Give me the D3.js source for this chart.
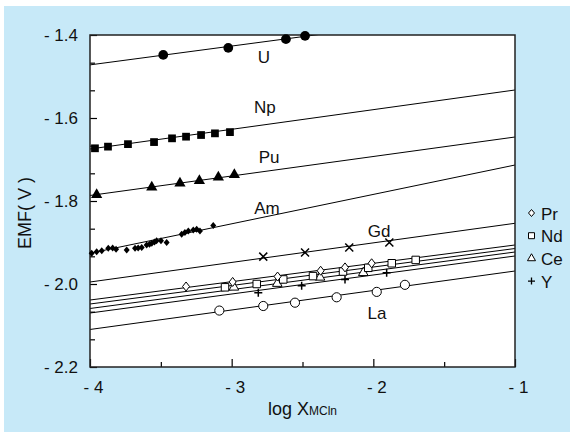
<!DOCTYPE html>
<html><head><meta charset="utf-8">
<script src="https://cdn.jsdelivr.net/npm/d3@7"></script>
<style>
body{margin:0;background:#fff;}
svg{display:block;}
text{font-family:Arial,"Liberation Sans",sans-serif;fill:#111;}
</style>
</head><body>
<svg id="chart" width="570" height="435"></svg>
<script>
// ---------- data ----------
const xTicks = [-4, -3, -2, -1];
const xTickLabels = ["- 4", "- 3", "- 2", "- 1"];
const yTicks = [-1.4, -1.6, -1.8, -2.0, -2.2];
const yTickLabels = ["- 1.4", "- 1.6", "- 1.8", "- 2.0", "- 2.2"];
const xMinorTicks = [-3.5, -2.5, -1.5];
const yMinorTicks = [-1.4667, -1.5333, -1.6667, -1.7333, -1.8667, -1.9333, -2.0667, -2.1333];

const uX = [-3.483, -3.024, -2.617, -2.482];
const uY = [-1.448, -1.431, -1.410, -1.402];
const npX = [-3.965, -3.873, -3.732, -3.548, -3.421, -3.322, -3.216, -3.118, -3.012];
const npY = [-1.673, -1.669, -1.663, -1.658, -1.649, -1.645, -1.641, -1.637, -1.634];
const puX = [-3.953, -3.564, -3.365, -3.228, -3.094, -2.981];
const puY = [-1.785, -1.767, -1.757, -1.751, -1.743, -1.737];
const amX = [-3.988, -3.953, -3.917, -3.871, -3.840, -3.816, -3.741, -3.682, -3.660, -3.635, -3.600, -3.580, -3.564, -3.545, -3.530, -3.499, -3.459, -3.353, -3.330, -3.306, -3.271, -3.247, -3.224, -3.130];
const amY = [-1.926, -1.922, -1.920, -1.914, -1.913, -1.916, -1.918, -1.914, -1.913, -1.912, -1.906, -1.904, -1.902, -1.899, -1.896, -1.896, -1.900, -1.880, -1.876, -1.872, -1.870, -1.868, -1.872, -1.859];
const gdX = [-2.777, -2.482, -2.170, -1.887];
const gdY = [-1.934, -1.924, -1.912, -1.900];
const prX = [-3.322, -2.993, -2.676, -2.372, -2.200, -2.012];
const prY = [-2.006, -1.995, -1.982, -1.968, -1.960, -1.950];
const ndX = [-3.047, -2.823, -2.636, -2.426, -2.214, -2.036, -1.870, -1.701];
const ndY = [-2.008, -2.000, -1.989, -1.981, -1.970, -1.961, -1.950, -1.942];
const ceX = [-2.984, -2.678, -2.376, -2.071];
const ceY = [-2.008, -1.999, -1.984, -1.973];
const yyX = [-2.812, -2.506, -2.200, -1.906];
const yyY = [-2.021, -2.004, -1.989, -1.973];
const laX = [-3.087, -2.777, -2.553, -2.259, -1.976, -1.777];
const laY = [-2.064, -2.053, -2.045, -2.032, -2.019, -2.002];

// fitted lines: value at x = -4 and at x = -1
const fitX = [-4, -1];
const fitU = [-1.472, -1.336];
const fitNp = [-1.6747, -1.5325];
const fitPu = [-1.7867, -1.6458];
const fitAm = [-1.9258, -1.7133];
const fitGd = [-1.9952, -1.8537];
const fitPr = [-2.0386, -1.9060];
const fitNd = [-2.0482, -1.9145];
const fitCe = [-2.0590, -1.9229];
const fitY = [-2.0699, -1.9325];
const fitLa = [-2.1096, -1.9687];

const seriesNames = ["U", "Np", "Pu", "Am", "Gd", "La"];
const labelX = [-2.772, -2.765, -2.736, -2.751, -1.960, -1.974];
const labelY = [-1.4675, -1.588, -1.7084, -1.8313, -1.8867, -2.0843];

const legendNames = ["Pr", "Nd", "Ce", "Y"];

const xLabel = "log X";
const xLabelSub = "MCln";
const yLabel = "EMF( V )";

// ---------- drawing ----------
const svg = d3.select("#chart");
const W = 570, H = 435;
const L = 90, R = 515, T = 35, B = 367;
const x = d3.scaleLinear().domain([-4, -1]).range([L, R]);
const y = d3.scaleLinear().domain([-2.2, -1.4]).range([B, T]);

svg.append("rect").attr("x", 4).attr("y", 6).attr("width", W - 4).attr("height", H - 9)
  .attr("fill", "#c7e9f8");
svg.append("rect").attr("x", L).attr("y", T).attr("width", R - L).attr("height", B - T)
  .attr("fill", "#fff");

svg.append("clipPath").attr("id", "clip").append("rect")
  .attr("x", L).attr("y", T).attr("width", R - L).attr("height", B - T);

const lineGen = d3.line().x(d => x(d[0])).y(d => y(d[1]));
const fits = [fitU, fitNp, fitPu, fitAm, fitGd, fitPr, fitNd, fitCe, fitY, fitLa];
const gl = svg.append("g").attr("clip-path", "url(#clip)");
fits.forEach(f => {
  gl.append("path").attr("d", lineGen(fitX.map((v, i) => [v, f[i]])))
    .attr("fill", "none").attr("stroke", "#000").attr("stroke-width", 1);
});

// axes
const xAxis = d3.axisBottom(x).tickValues(xTicks).tickSize(-8).tickFormat((d, i) => xTickLabels[i]).tickPadding(14);
const gx = svg.append("g").attr("transform", `translate(0,${B})`).call(xAxis);
gx.select(".domain").remove();
gx.selectAll("line").attr("stroke", "#000").attr("stroke-width", 1.2);
gx.selectAll("text").attr("font-size", 17).attr("fill", "#111").attr("dx", 3)
  .style("font-family", "Arial, 'Liberation Sans', sans-serif");
const xAxisMinor = d3.axisBottom(x).tickValues(xMinorTicks).tickSize(-5).tickFormat("");
const gxm = svg.append("g").attr("transform", `translate(0,${B})`).call(xAxisMinor);
gxm.select(".domain").remove();
gxm.selectAll("line").attr("stroke", "#000").attr("stroke-width", 1.2);

const yAxis = d3.axisLeft(y).tickValues(yTicks).tickSize(-7).tickFormat((d, i) => yTickLabels[i]).tickPadding(12);
const gy = svg.append("g").attr("transform", `translate(${L},0)`).call(yAxis);
gy.select(".domain").remove();
gy.selectAll("line").attr("stroke", "#000").attr("stroke-width", 1.2);
gy.selectAll("text").attr("font-size", 17).attr("fill", "#111")
  .style("font-family", "Arial, 'Liberation Sans', sans-serif");
const yAxisMinor = d3.axisLeft(y).tickValues(yMinorTicks).tickSize(-5).tickFormat("");
const gym = svg.append("g").attr("transform", `translate(${L},0)`).call(yAxisMinor);
gym.select(".domain").remove();
gym.selectAll("line").attr("stroke", "#000").attr("stroke-width", 1.2);

// frame
svg.append("rect").attr("x", L).attr("y", T).attr("width", R - L).attr("height", B - T)
  .attr("fill", "none").attr("stroke", "#222").attr("stroke-width", 1.5);

// markers
function pts(xs, ys) { return xs.map((v, i) => [v, ys[i]]); }
function drawSym(data, type, size, fill, stroke, sw) {
  svg.append("g").selectAll("path").data(data).join("path")
    .attr("transform", d => `translate(${x(d[0])},${y(d[1])})`)
    .attr("d", d3.symbol().type(type).size(size)())
    .attr("fill", fill).attr("stroke", stroke).attr("stroke-width", sw);
}
const crossX = "M-4,-4L4,4M-4,4L4,-4";
const plusP = "M-4,0L4,0M0,-4L0,4";
function drawPath(data, p, sw) {
  svg.append("g").selectAll("path").data(data).join("path")
    .attr("transform", d => `translate(${x(d[0])},${y(d[1])})`)
    .attr("d", p).attr("fill", "none").attr("stroke", "#000").attr("stroke-width", sw);
}
const diamond = "M0,-4.5L3.5,0L0,4.5L-3.5,0Z";
const diamondS = "M0,-3.5L3,0L0,3.5L-3,0Z";

drawSym(pts(laX, laY), d3.symbolCircle, 66, "#fff", "#000", 1);
drawPath(pts(yyX, yyY), plusP, 1.5);
drawSym(pts(ceX, ceY), d3.symbolTriangle, 40, "#fff", "#000", 1);
drawSym(pts(ndX, ndY), d3.symbolSquare, 56, "#fff", "#000", 1);
svg.append("g").selectAll("path").data(pts(prX, prY)).join("path")
  .attr("transform", d => `translate(${x(d[0])},${y(d[1])})`)
  .attr("d", diamond).attr("fill", "#fff").attr("stroke", "#000").attr("stroke-width", 1);
drawPath(pts(gdX, gdY), crossX, 1.5);
svg.append("g").selectAll("path").data(pts(amX, amY)).join("path")
  .attr("transform", d => `translate(${x(d[0])},${y(d[1])})`)
  .attr("d", diamondS).attr("fill", "#000");
drawSym(pts(puX, puY), d3.symbolTriangle, 55, "#000", "none", 0);
drawSym(pts(npX, npY), d3.symbolSquare, 60, "#000", "none", 0);
drawSym(pts(uX, uY), d3.symbolCircle, 75, "#000", "none", 0);

// series labels
svg.append("g").selectAll("text").data(seriesNames).join("text")
  .attr("x", (d, i) => x(labelX[i])).attr("y", (d, i) => y(labelY[i]))
  .attr("text-anchor", "middle").attr("font-size", 17).text(d => d);

// legend
const lg = svg.append("g");
legendNames.forEach((n, i) => {
  const cy = 213 + i * 22.7;
  const g = lg.append("g").attr("transform", `translate(531.5,${cy})`);
  if (i === 0) g.append("path").attr("d", "M0,-3.5L3,0L0,3.5L-3,0Z").attr("fill", "#fff").attr("stroke", "#000");
  if (i === 1) g.append("path").attr("d", d3.symbol().type(d3.symbolSquare).size(36)()).attr("fill", "#fff").attr("stroke", "#000");
  if (i === 2) g.append("path").attr("d", d3.symbol().type(d3.symbolTriangle).size(28)()).attr("fill", "#fff").attr("stroke", "#000");
  if (i === 3) g.append("path").attr("d", "M-3.5,0L3.5,0M0,-3.5L0,3.5").attr("fill", "none").attr("stroke", "#000").attr("stroke-width", 1.3);
  lg.append("text").attr("x", 541).attr("y", cy + 6.5).attr("font-size", 17).text(n);
});

// axis titles
const xt = svg.append("text").attr("x", (L + R) / 2).attr("y", 415).attr("text-anchor", "middle");
xt.append("tspan").attr("font-size", 18).text(xLabel);
xt.append("tspan").attr("font-size", 12).text(xLabelSub);

svg.append("text").attr("transform", "translate(31,213) rotate(-90)")
  .attr("text-anchor", "middle").attr("font-size", 18).style("white-space", "pre").text(yLabel);
</script>
</body></html>
